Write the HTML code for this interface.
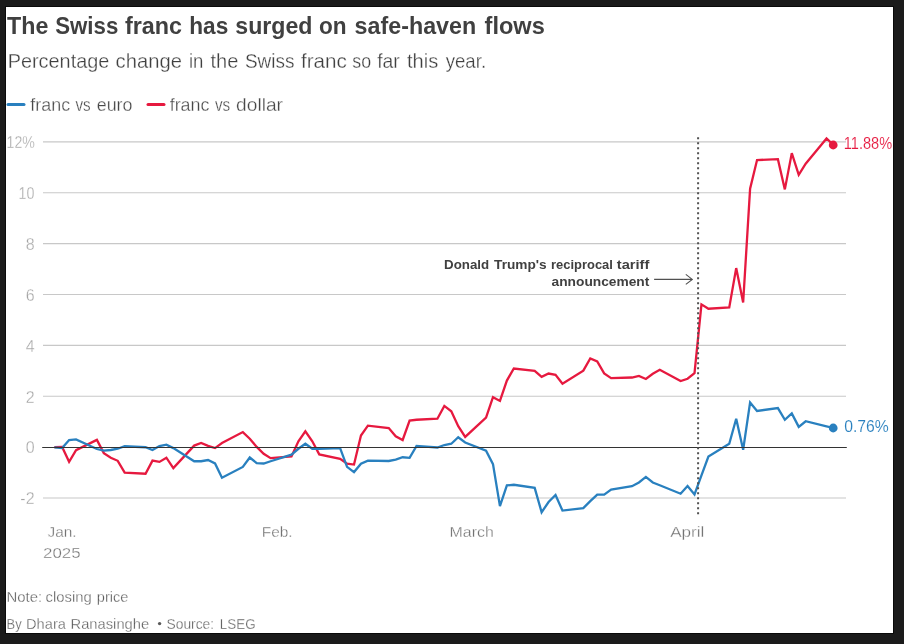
<!DOCTYPE html>
<html><head><meta charset="utf-8"><title>The Swiss franc has surged on safe-haven flows</title>
<style>
html,body{margin:0;padding:0;}
body{width:904px;height:644px;background:#1b1b1b;overflow:hidden;position:relative;font-family:"Liberation Sans",sans-serif;}
#card{position:absolute;left:5px;top:6px;width:887px;height:626px;background:#fff;border:1px solid #0a0a0a;}
svg{position:absolute;left:0;top:0;will-change:transform;}
svg text{font-family:"Liberation Sans",sans-serif;}
svg text.t{stroke:#fff;stroke-width:0.3px;}
svg text.v{stroke:#fff;stroke-width:0.12px;}
</style></head><body>
<div id="card"></div>
<svg width="904" height="644" viewBox="0 0 904 644">
<defs><clipPath id="c"><rect x="6" y="7" width="887" height="626"/></clipPath></defs>
<g clip-path="url(#c)">
<text x="7.0" y="34.1" font-size="23.6" fill="#404040" font-weight="bold" textLength="41.3" lengthAdjust="spacingAndGlyphs">The</text>
<text x="55.2" y="34.1" font-size="23.6" fill="#404040" font-weight="bold" textLength="63.1" lengthAdjust="spacingAndGlyphs">Swiss</text>
<text x="124.9" y="34.1" font-size="23.6" fill="#404040" font-weight="bold" textLength="57.0" lengthAdjust="spacingAndGlyphs">franc</text>
<text x="189.3" y="34.1" font-size="23.6" fill="#404040" font-weight="bold" textLength="39.0" lengthAdjust="spacingAndGlyphs">has</text>
<text x="235.3" y="34.1" font-size="23.6" fill="#404040" font-weight="bold" textLength="77.1" lengthAdjust="spacingAndGlyphs">surged</text>
<text x="319.0" y="34.1" font-size="23.6" fill="#404040" font-weight="bold" textLength="27.6" lengthAdjust="spacingAndGlyphs">on</text>
<text x="354.6" y="34.1" font-size="23.6" fill="#404040" font-weight="bold" textLength="121.6" lengthAdjust="spacingAndGlyphs">safe-haven</text>
<text x="484.6" y="34.1" font-size="23.6" fill="#404040" font-weight="bold" textLength="60.2" lengthAdjust="spacingAndGlyphs">flows</text>
<text x="7.7" y="68.1" font-size="20.3" fill="#404040" class="t" textLength="101.6" lengthAdjust="spacingAndGlyphs">Percentage</text>
<text x="115.6" y="68.1" font-size="20.3" fill="#404040" class="t" textLength="66.3" lengthAdjust="spacingAndGlyphs">change</text>
<text x="188.9" y="68.1" font-size="20.3" fill="#404040" class="t" textLength="14.5" lengthAdjust="spacingAndGlyphs">in</text>
<text x="210.5" y="68.1" font-size="20.3" fill="#404040" class="t" textLength="27.9" lengthAdjust="spacingAndGlyphs">the</text>
<text x="244.9" y="68.1" font-size="20.3" fill="#404040" class="t" textLength="49.5" lengthAdjust="spacingAndGlyphs">Swiss</text>
<text x="300.9" y="68.1" font-size="20.3" fill="#404040" class="t" textLength="45.9" lengthAdjust="spacingAndGlyphs">franc</text>
<text x="352.3" y="68.1" font-size="20.3" fill="#404040" class="t" textLength="18.8" lengthAdjust="spacingAndGlyphs">so</text>
<text x="377.2" y="68.1" font-size="20.3" fill="#404040" class="t" textLength="22.6" lengthAdjust="spacingAndGlyphs">far</text>
<text x="407.0" y="68.1" font-size="20.3" fill="#404040" class="t" textLength="31.3" lengthAdjust="spacingAndGlyphs">this</text>
<text x="445.7" y="68.1" font-size="20.3" fill="#404040" class="t" textLength="40.4" lengthAdjust="spacingAndGlyphs">year.</text>
<line x1="8" x2="24" y1="104.4" y2="104.4" stroke="#2980bf" stroke-width="3" stroke-linecap="round"/>
<text x="30.3" y="110.7" font-size="17.6" fill="#484848" class="t" textLength="39.8" lengthAdjust="spacingAndGlyphs">franc</text>
<text x="75.5" y="110.7" font-size="17.6" fill="#484848" class="t" textLength="15.2" lengthAdjust="spacingAndGlyphs">vs</text>
<text x="96.7" y="110.7" font-size="17.6" fill="#484848" class="t" textLength="35.8" lengthAdjust="spacingAndGlyphs">euro</text>
<line x1="148" x2="164" y1="104.4" y2="104.4" stroke="#e6193f" stroke-width="3" stroke-linecap="round"/>
<text x="169.7" y="110.7" font-size="17.6" fill="#484848" class="t" textLength="39.8" lengthAdjust="spacingAndGlyphs">franc</text>
<text x="214.9" y="110.7" font-size="17.6" fill="#484848" class="t" textLength="15.2" lengthAdjust="spacingAndGlyphs">vs</text>
<text x="236.1" y="110.7" font-size="17.6" fill="#484848" class="t" textLength="46.9" lengthAdjust="spacingAndGlyphs">dollar</text>
<line x1="43" x2="846" y1="141.87" y2="141.87" stroke="#c8c8c8" stroke-width="1.15"/>
<line x1="43" x2="846" y1="192.75" y2="192.75" stroke="#c8c8c8" stroke-width="1.15"/>
<line x1="43" x2="846" y1="243.63" y2="243.63" stroke="#c8c8c8" stroke-width="1.15"/>
<line x1="43" x2="846" y1="294.51" y2="294.51" stroke="#c8c8c8" stroke-width="1.15"/>
<line x1="43" x2="846" y1="345.39" y2="345.39" stroke="#c8c8c8" stroke-width="1.15"/>
<line x1="43" x2="846" y1="396.27" y2="396.27" stroke="#c8c8c8" stroke-width="1.15"/>
<line x1="43" x2="846" y1="498.03" y2="498.03" stroke="#c8c8c8" stroke-width="1.15"/>

<text x="6.6" y="148.17" class="t" font-size="16" fill="#a4a4a4" textLength="28.3" lengthAdjust="spacingAndGlyphs">12%</text>
<text x="18.6" y="199.05" class="t" font-size="16" fill="#a4a4a4" textLength="15.9" lengthAdjust="spacingAndGlyphs">10</text>
<text x="34.6" y="249.93" text-anchor="end" class="t" font-size="16" fill="#a4a4a4">8</text>
<text x="34.6" y="300.81" text-anchor="end" class="t" font-size="16" fill="#a4a4a4">6</text>
<text x="34.6" y="351.69" text-anchor="end" class="t" font-size="16" fill="#a4a4a4">4</text>
<text x="34.6" y="402.57" text-anchor="end" class="t" font-size="16" fill="#a4a4a4">2</text>
<text x="34.6" y="453.45" text-anchor="end" class="t" font-size="16" fill="#a4a4a4">0</text>
<text x="34.6" y="504.33" text-anchor="end" class="t" font-size="16" fill="#a4a4a4">-2</text>

<path d="M54.4,447.2 L62.15,446.9 L69.1,461.8 L76.05,450.2 L96.89,439.9 L103.84,453.1 L110.79,457.7 L117.74,460.8 L124.69,472.6 L145.54,473.7 L152.49,460.6 L159.44,461.9 L166.38,457.7 L173.33,468.1 L194.18,445.6 L201.13,442.9 L208.08,445.9 L215.03,448.1 L221.98,443.1 L242.82,432.1 L249.77,438.75 L256.72,446.9 L263.67,453.75 L270.62,458.1 L291.47,456.5 L298.42,441.25 L305.36,431.25 L312.31,441.25 L319.26,454.4 L340.11,458.75 L347.06,463.75 L354.01,464.6 L360.96,435.6 L367.9,425.6 L388.75,428.1 L395.7,436.25 L402.65,440 L409.6,420.6 L416.55,419.75 L437.39,418.75 L444.34,405.9 L451.29,411.25 L458.24,426.25 L465.19,436.9 L486.04,417.5 L492.99,397.25 L499.94,400.9 L506.88,380.6 L513.83,368.5 L534.68,370.9 L541.63,376.9 L548.58,373.5 L555.53,374.75 L562.48,383.75 L583.32,370.6 L590.27,358.4 L597.22,361.5 L604.17,373.4 L611.12,378.1 L631.97,377.5 L638.92,376 L645.87,379 L652.81,373.75 L659.76,369.75 L680.61,381 L687.56,378.75 L694.51,373.1 L701.46,304.4 L708.41,308.75 L729.25,307.5 L736.2,268.1 L743.15,302.5 L750.1,188.75 L757.05,160.0 L777.9,159.2 L784.85,189.4 L791.79,153.1 L798.74,174.9 L805.69,163.75 L826.54,138.4 L833.49,145" fill="none" stroke="#e6193f" stroke-width="2.3" stroke-linejoin="miter"/>
<path d="M54.4,447.4 L62.15,448.1 L69.1,440.0 L76.05,439.4 L96.89,449.0 L103.84,450.6 L110.79,450.0 L117.74,448.75 L124.69,446.25 L145.54,447.25 L152.49,450.0 L159.44,446.0 L166.38,444.6 L173.33,448.1 L194.18,461.25 L201.13,461.25 L208.08,460 L215.03,463.4 L221.98,477.75 L242.82,466.9 L249.77,457.5 L256.72,463.1 L263.67,463.5 L270.62,461.25 L291.47,454.6 L298.42,448.75 L305.36,443.75 L312.31,448.75 L319.26,448.75 L340.11,448.1 L347.06,466.9 L354.01,472.1 L360.96,463.75 L367.9,460.6 L388.75,461 L395.7,459.6 L402.65,457.25 L409.6,457.9 L416.55,445.9 L437.39,447.5 L444.34,445 L451.29,443.75 L458.24,437.25 L465.19,442.5 L486.04,450.75 L492.99,464.1 L499.94,506.1 L506.88,485.4 L513.83,484.75 L534.68,487.9 L541.63,512.25 L548.58,502 L555.53,495 L562.48,510.6 L583.32,508.1 L590.27,501.2 L597.22,494.6 L604.17,494.6 L611.12,489.6 L631.97,486.25 L638.92,482.5 L645.87,476.9 L652.81,482.5 L659.76,485.25 L680.61,493.7 L687.56,485.9 L694.51,494.4 L701.46,475.3 L708.41,456.5 L729.25,443.75 L736.2,418.75 L743.15,449.75 L750.1,402.4 L757.05,410.9 L777.9,408.1 L784.85,419.75 L791.79,413.4 L798.74,426.9 L805.69,421.25 L826.54,426.4 L833.49,428.0" fill="none" stroke="#2980bf" stroke-width="2.3" stroke-linejoin="miter"/>
<line x1="42.2" x2="846.8" y1="447.4" y2="447.4" stroke="#333" stroke-width="1.05"/>
<line x1="698.1" x2="698.1" y1="137.2" y2="514.4" stroke="#505050" stroke-width="2" stroke-dasharray="2 3"/>
<circle cx="833.2" cy="145" r="4.4" fill="#e6193f"/>
<circle cx="833.2" cy="428" r="4.4" fill="#2980bf"/>
<text x="843.8" y="148.9" class="v" font-size="16" fill="#e6193f" textLength="48.3" lengthAdjust="spacingAndGlyphs">11.88%</text>
<text x="844.2" y="431.6" class="v" font-size="16" fill="#2980bf" textLength="44.6" lengthAdjust="spacingAndGlyphs">0.76%</text>
<text x="444.05" y="269.4" font-size="13.65" fill="#404040" font-weight="bold" textLength="45.1" lengthAdjust="spacingAndGlyphs">Donald</text>
<text x="494.05" y="269.4" font-size="13.65" fill="#404040" font-weight="bold" textLength="52.6" lengthAdjust="spacingAndGlyphs">Trump's</text>
<text x="551.05" y="269.4" font-size="13.65" fill="#404040" font-weight="bold" textLength="61.85" lengthAdjust="spacingAndGlyphs">reciprocal</text>
<text x="616.8" y="269.4" font-size="13.65" fill="#404040" font-weight="bold" textLength="32.5" lengthAdjust="spacingAndGlyphs">tariff</text>
<text x="551.55" y="286.4" font-size="13.65" fill="#404040" font-weight="bold" textLength="97.75" lengthAdjust="spacingAndGlyphs">announcement</text>
<path d="M654.1,279.4 L692.2,279.4 M685.8,274.4 L692.3,279.4 L685.8,284.4" fill="none" stroke="#505050" stroke-width="1.1"/>
<text x="62" y="536.5" text-anchor="middle" class="t" font-size="15.4" fill="#727272">Jan.</text>
<text x="43.1" y="558.0" class="t" font-size="15.4" fill="#727272" textLength="37.5" lengthAdjust="spacingAndGlyphs">2025</text>
<text x="277.2" y="536.5" text-anchor="middle" class="t" font-size="15.4" fill="#727272">Feb.</text>
<text x="449.6" y="536.5" class="t" font-size="15.4" fill="#727272" textLength="44.2" lengthAdjust="spacingAndGlyphs">March</text>
<text x="670.2" y="536.5" class="t" font-size="15.4" fill="#727272" textLength="34.2" lengthAdjust="spacingAndGlyphs">April</text>
<text x="6.55" y="602" font-size="14.8" fill="#5a5a5a" class="t" textLength="35.6" lengthAdjust="spacingAndGlyphs">Note:</text>
<text x="45.55" y="602" font-size="14.8" fill="#5a5a5a" class="t" textLength="46.1" lengthAdjust="spacingAndGlyphs">closing</text>
<text x="96.8" y="602" font-size="14.8" fill="#5a5a5a" class="t" textLength="31.6" lengthAdjust="spacingAndGlyphs">price</text>
<text x="6.55" y="628.9" font-size="14.8" fill="#5a5a5a" class="t" textLength="15.1" lengthAdjust="spacingAndGlyphs">By</text>
<text x="26.05" y="628.9" font-size="14.8" fill="#5a5a5a" class="t" textLength="39.85" lengthAdjust="spacingAndGlyphs">Dhara</text>
<text x="70.55" y="628.9" font-size="14.8" fill="#5a5a5a" class="t" textLength="78.6" lengthAdjust="spacingAndGlyphs">Ranasinghe</text>
<text x="166.55" y="628.9" font-size="14.8" fill="#5a5a5a" class="t" textLength="47.6" lengthAdjust="spacingAndGlyphs">Source:</text>
<text x="219.8" y="628.9" font-size="14.8" fill="#5a5a5a" class="t" textLength="35.8" lengthAdjust="spacingAndGlyphs">LSEG</text>
<circle cx="159.6" cy="623.6" r="1.7" fill="#5a5a5a"/>
</g>
</svg>
</body></html>
